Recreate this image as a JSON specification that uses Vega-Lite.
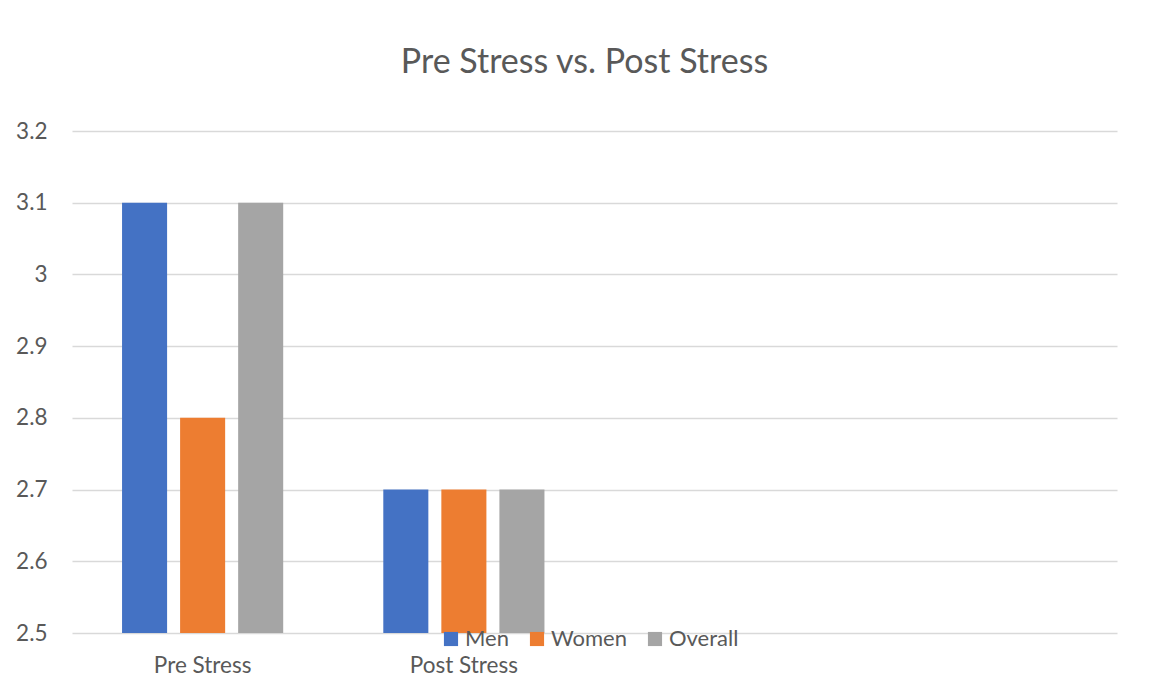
{
  "$schema": "https://vega.github.io/schema/vega-lite/v6.json",
  "autosize": "none",
  "width": 1045,
  "height": 502,
  "padding": {"left": 72, "top": 131, "right": 44, "bottom": 44},
  "background": "white",
  "title": {
    "text": "Pre Stress vs. Post Stress",
    "font": "Lato",
    "fontSize": 34,
    "fontWeight": "normal",
    "color": "#595959",
    "anchor": "middle",
    "frame": "group",
    "offset": 40,
    "dx": -10
  },
  "data": {
    "values": [
      {"stage": "Pre Stress", "group": "Men", "value": 3.1},
      {"stage": "Pre Stress", "group": "Women", "value": 2.8},
      {"stage": "Pre Stress", "group": "Overall", "value": 3.1},
      {"stage": "Post Stress", "group": "Men", "value": 2.7},
      {"stage": "Post Stress", "group": "Women", "value": 2.7},
      {"stage": "Post Stress", "group": "Overall", "value": 2.7}
    ]
  },
  "mark": {"type": "bar", "clip": true},
  "encoding": {
    "x": {
      "field": "stage",
      "type": "nominal",
      "sort": null,
      "scale": {"domain": ["Pre Stress", "Post Stress", "c3", "c4"], "paddingInner": 0, "paddingOuter": 0},
      "axis": {
        "title": null,
        "domain": false,
        "ticks": false,
        "labelAngle": 0,
        "labelFont": "Lato",
        "labelFontSize": 22.5,
        "labelColor": "#595959",
        "labelPadding": 21,
        "labelExpr": "datum.value == 'c3' || datum.value == 'c4' ? '' : datum.value"
      }
    },
    "xOffset": {
      "field": "group",
      "type": "nominal",
      "sort": ["Men", "Women", "Overall"],
      "scale": {"paddingInner": 0.224, "paddingOuter": 0.862}
    },
    "y": {
      "field": "value",
      "type": "quantitative",
      "scale": {"domain": [2.5, 3.2], "zero": false, "nice": false},
      "axis": {
        "title": null,
        "domain": false,
        "ticks": false,
        "values": [2.5, 2.6, 2.7, 2.8, 2.9, 3.0, 3.1, 3.2],
        "format": "~g",
        "labelFont": "Lato",
        "labelFontSize": 22.5,
        "labelColor": "#595959",
        "labelPadding": 25,
        "gridColor": "#d9d9d9",
        "gridWidth": 1.5
      }
    },
    "y2": {"datum": 2.5},
    "color": {
      "field": "group",
      "type": "nominal",
      "sort": ["Men", "Women", "Overall"],
      "scale": {"domain": ["Men", "Women", "Overall"], "range": ["#4472C4", "#ED7D31", "#A5A5A5"]},
      "legend": {
        "title": null,
        "orient": "none",
        "direction": "horizontal",
        "legendX": 368,
        "legendY": 497,
        "padding": 0,
        "gridAlign": "none",
        "symbolType": "square",
        "symbolSize": 200,
        "symbolStrokeWidth": 0,
        "labelFont": "Lato",
        "labelFontSize": 22,
        "labelColor": "#595959",
        "labelOffset": 3,
        "columnPadding": 17
      }
    }
  },
  "config": {"view": {"stroke": null}}
}
